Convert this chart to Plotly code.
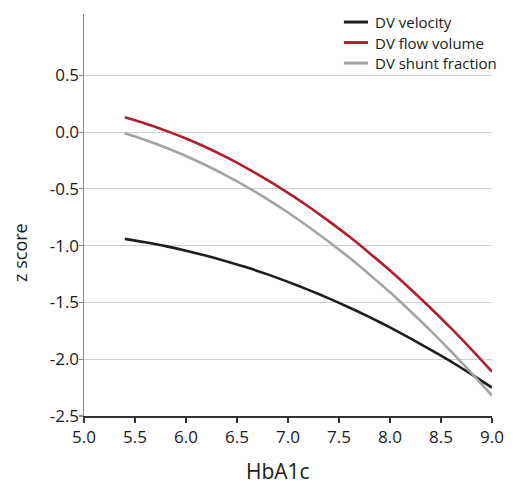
import plotly.graph_objects as go

hba1c = [5.4, 5.6, 5.8, 6.0, 6.2, 6.4, 6.6, 6.8, 7.0, 7.2, 7.4, 7.6, 7.8, 8.0, 8.2, 8.4, 8.6, 8.8, 9.0]

dv_velocity = [-0.940, -0.970, -1.004, -1.044, -1.089, -1.139, -1.193, -1.253, -1.319, -1.389,
               -1.464, -1.544, -1.630, -1.720, -1.816, -1.917, -2.022, -2.133, -2.250]
dv_flow_volume = [0.130, 0.076, 0.013, -0.057, -0.136, -0.223, -0.319, -0.423, -0.535, -0.655,
                  -0.784, -0.920, -1.066, -1.219, -1.381, -1.551, -1.729, -1.915, -2.110]
dv_shunt_fraction = [-0.010, -0.069, -0.135, -0.210, -0.294, -0.385, -0.484, -0.592, -0.708, -0.833,
                     -0.965, -1.105, -1.255, -1.411, -1.577, -1.750, -1.932, -2.122, -2.320]

series_names = ["DV velocity", "DV flow volume", "DV shunt fraction"]
series_colors = ["#1e1e1e", "#b01e2b", "#a3a3a3"]

x_ticks = [5.0, 5.5, 6.0, 6.5, 7.0, 7.5, 8.0, 8.5, 9.0]
x_ticktext = ["5.0", "5.5", "6.0", "6.5", "7.0", "7.5", "8.0", "8.5", "9.0"]
y_ticks = [-2.5, -2.0, -1.5, -1.0, -0.5, 0.0, 0.5]
y_ticktext = ["-2.5", "-2.0", "-1.5", "-1.0", "-0.5", "0.0", "0.5"]

x_title = "HbA1c"
y_title = "z score"

FONT = "Open Sans"
TEXT = "#1a1a1a"

fig = go.Figure()
for name, vals, col in zip(series_names, [dv_velocity, dv_flow_volume, dv_shunt_fraction], series_colors):
    fig.add_trace(go.Scatter(
        x=hba1c, y=vals, name=name, mode="lines",
        line=dict(color=col, width=2.6, shape="spline", smoothing=0.6),
    ))

# compact legend drawn in paper space
legend_rows_y = [0.980, 0.929, 0.878]
for name, col, ly in zip(series_names, series_colors, legend_rows_y):
    fig.add_shape(type="line", xref="paper", yref="paper",
                  x0=0.637, x1=0.696, y0=ly, y1=ly,
                  line=dict(color=col, width=3))
    fig.add_annotation(xref="paper", yref="paper", x=0.711, y=ly,
                       xanchor="left", yanchor="middle", showarrow=False, borderpad=0,
                       text=name, font=dict(family=FONT, size=15, color=TEXT))

# axis titles (placed as in the reference, off-centre)
fig.add_annotation(xref="paper", yref="paper", x=0.475, y=-0.138,
                   xanchor="center", yanchor="middle", showarrow=False,
                   text=x_title, font=dict(family=FONT, size=21, color=TEXT))
fig.add_annotation(xref="paper", yref="paper", x=-0.157, y=0.408,
                   xanchor="center", yanchor="middle", showarrow=False, textangle=-90,
                   text=y_title, font=dict(family=FONT, size=18, color=TEXT))

fig.update_layout(
    width=513, height=485,
    margin=dict(l=84, r=21, t=14, b=69, autoexpand=False),
    paper_bgcolor="white", plot_bgcolor="white",
    font=dict(family=FONT, color=TEXT, size=15),
    showlegend=False,
    xaxis=dict(
        range=[5.0, 9.0], tickvals=x_ticks, ticktext=x_ticktext,
        showgrid=False, zeroline=False, automargin=False,
        showline=True, linecolor="#333333", linewidth=1.5,
        ticks="outside", ticklen=5, tickcolor="#333333", tickwidth=1.2,
        tickfont=dict(size=17),
    ),
    yaxis=dict(
        range=[-2.5, 1.04], tickvals=y_ticks, ticktext=y_ticktext,
        showgrid=True, gridcolor="#cfcfcf", gridwidth=1.2, zeroline=False, automargin=False,
        showline=True, linecolor="#888888", linewidth=1.5,
        ticks="outside", ticklen=4, tickcolor="#888888", tickwidth=1.2,
        ticklabelstandoff=-4,
        tickfont=dict(size=17),
    ),
)

fig.write_html("out.html",
               config={"displayModeBar": False, "staticPlot": True},
               post_script="document.body.style.margin='0';document.body.style.overflow='hidden';")
